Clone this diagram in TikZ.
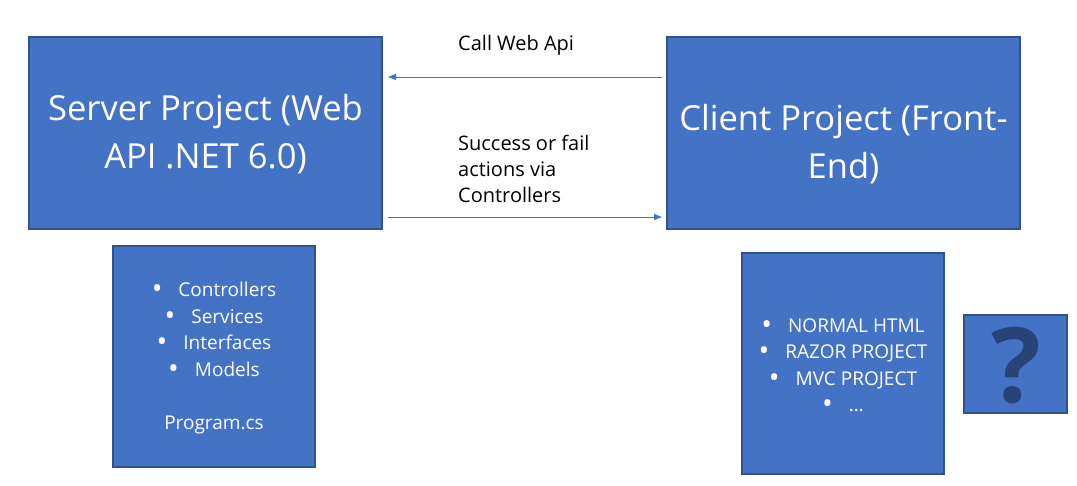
\documentclass[tikz,border=0pt]{standalone}
\usepackage{fontspec}
\setmainfont{Open Sans}
\usetikzlibrary{arrows.meta}
\definecolor{boxfill}{HTML}{4472C4}
\definecolor{boxline}{HTML}{2F528F}
\definecolor{qmark}{HTML}{264478}
\tikzset{
  box/.style={draw=boxline, line width=1.2pt, fill=boxfill, inner sep=0pt},
  bigtext/.style={text=white, font=\fontsize{34.5}{48}\selectfont, align=center, inner sep=0pt},
  listtext/.style={text=white, font=\fontsize{19}{26.5}\selectfont, align=center, inner sep=0pt},
  lbl/.style={text=black, font=\fontsize{20}{26}\selectfont, align=left, inner sep=0pt, anchor=west},
  conn/.style={draw=boxfill, line width=1pt, -{Triangle[length=8pt,width=6pt]}}
}
\newcommand{\bul}[1]{\raisebox{-2pt}{\scalebox{1.5}{\textbullet}}\hspace{16pt}#1}
\begin{document}
\begin{tikzpicture}[x=1pt,y=-1pt]
\useasboundingbox (0,0) rectangle (1077,485);
% main boxes
\node[box, minimum width=353pt, minimum height=192pt] (server) at (205.5,133) {};
\node[box, minimum width=353pt, minimum height=192pt] (client) at (843.5,133) {};
\node[bigtext] (servert) at (205.5,134) {Server Project (Web\\API .NET 6.0)};
\node[bigtext] (clientt) at (843.5,144) {Client Project (Front-\\End)};
% detail boxes
\node[box, minimum width=202pt, minimum height=221pt] (sdet) at (214,356.5) {};
\node[listtext] (sdett) at (214,358) {\bul{Controllers}\\\bul{Services}\\\bul{Interfaces}\\\bul{Models}\\[26.5pt]Program.cs};
\node[box, minimum width=202pt, minimum height=221pt] (cdet) at (843,363.5) {};
\node[listtext] (cdett) at (843,366) {\bul{NORMAL HTML}\\\bul{RAZOR PROJECT}\\\bul{MVC PROJECT}\\\bul{…}};
\node[box, minimum width=103pt, minimum height=98pt] (qbox) at (1015.5,364) {};
\node[text=qmark, font=\fontsize{104}{104}\bfseries\selectfont, inner sep=0pt] (q) at (1016,366) {?};
% connectors
\coordinate (a1s) at (662,77);
\coordinate (a1e) at (388,77);
\coordinate (a2s) at (388,217);
\coordinate (a2e) at (662,217);
\draw[conn] (a1s) -- (a1e);
\draw[conn] (a2s) -- (a2e);
\node[lbl] (l1) at (458,45) {Call Web Api};
\node[lbl] (l2) at (458,169) {Success or fail\\actions via\\Controllers};
\end{tikzpicture}
\end{document}
